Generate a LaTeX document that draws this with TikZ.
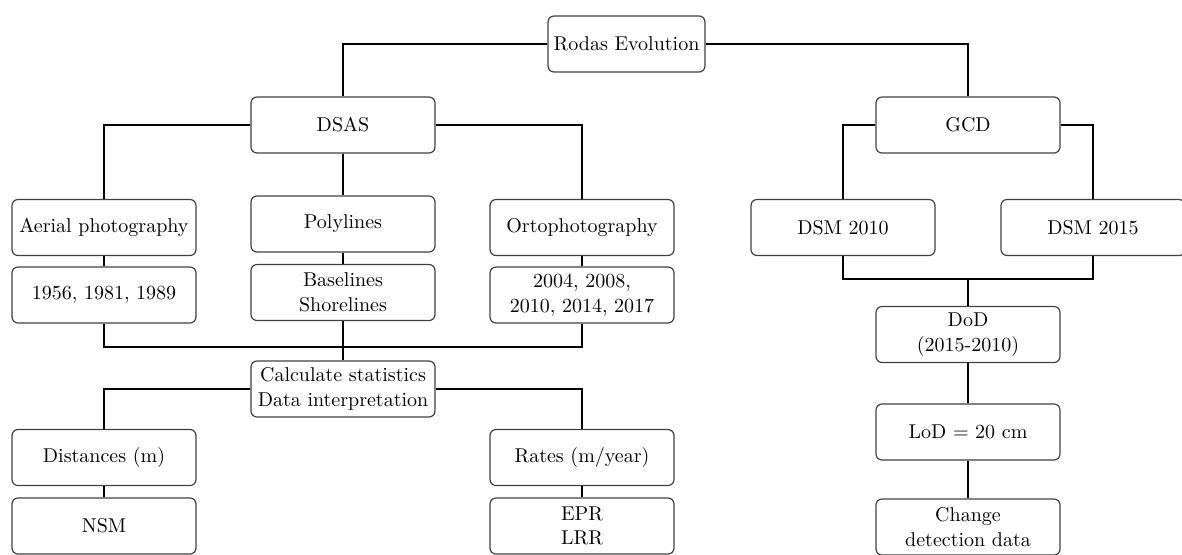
\documentclass[tikz,border=0pt]{standalone}
\begin{document}
\begin{tikzpicture}[x=0.5pt,y=-0.5pt,
  box/.style={draw=black!75,line width=0.6pt,rounded corners=3pt,align=center,
    minimum width=92pt,minimum height=28pt,inner sep=1pt,font=\fontsize{10}{12.3}\selectfont},
  conn/.style={draw=black,line width=0.9pt}]
\useasboundingbox (0,0) rectangle (1182,554);
% nodes
\node[box,minimum width=78.5pt] (root) at (626.5,44) {Rodas Evolution};
\node[box] (dsas) at (343,125) {DSAS};
\node[box] (gcd) at (968,125) {GCD};
\node[box] (aerial) at (104,227.5) {Aerial photography};
\node[box] (poly) at (343,224) {Polylines};
\node[box] (orto) at (582,227.5) {Ortophotography};
\node[box] (dsmA) at (843,227.5) {DSM 2010};
\node[box] (dsmB) at (1093,227.5) {DSM 2015};
\node[box] (yrA) at (104,295) {1956, 1981, 1989};
\node[box] (base) at (343,292.5) {Baselines\\Shorelines};
\node[box] (yrB) at (582,295) {2004, 2008,\\2010, 2014, 2017};
\node[box] (calc) at (343,389) {Calculate statistics\\Data interpretation};
\node[box] (dist) at (104,457.5) {Distances (m)};
\node[box] (rates) at (582,457.5) {Rates (m/year)};
\node[box] (nsm) at (104,526) {NSM};
\node[box] (epr) at (582,526) {EPR\\LRR};
\node[box] (dod) at (968,334.5) {DoD\\(2015-2010)};
\node[box] (lod) at (968,432) {LoD $=$ 20 cm};
\node[box] (chg) at (968,527) {Change\\detection data};
\coordinate (jl) at (343,346.7);
\coordinate (jr) at (968,279);
% connectors
\draw[conn] (root.west) -| (dsas.north);
\draw[conn] (root.east) -| (gcd.north);
\draw[conn] (dsas.west) -| (aerial.north);
\draw[conn] (dsas.east) -| (orto.north);
\draw[conn] (dsas.south) -- (poly.north);
\draw[conn] (gcd.west) -| (dsmA.north);
\draw[conn] (gcd.east) -| (dsmB.north);
\draw[conn] (aerial.south) -- (yrA.north);
\draw[conn] (poly.south) -- (base.north);
\draw[conn] (orto.south) -- (yrB.north);
\draw[conn] (yrA.south) |- (jl) -| (yrB.south);
\draw[conn] (base.south) -- (calc.north);
\draw[conn] (calc.west) -| (dist.north);
\draw[conn] (calc.east) -| (rates.north);
\draw[conn] (dist.south) -- (nsm.north);
\draw[conn] (rates.south) -- (epr.north);
\draw[conn] (dsmA.south) |- (jr) -| (dsmB.south);
\draw[conn] (jr) -- (dod.north);
\draw[conn] (dod.south) -- (lod.north);
\draw[conn] (lod.south) -- (chg.north);
\end{tikzpicture}
\end{document}
